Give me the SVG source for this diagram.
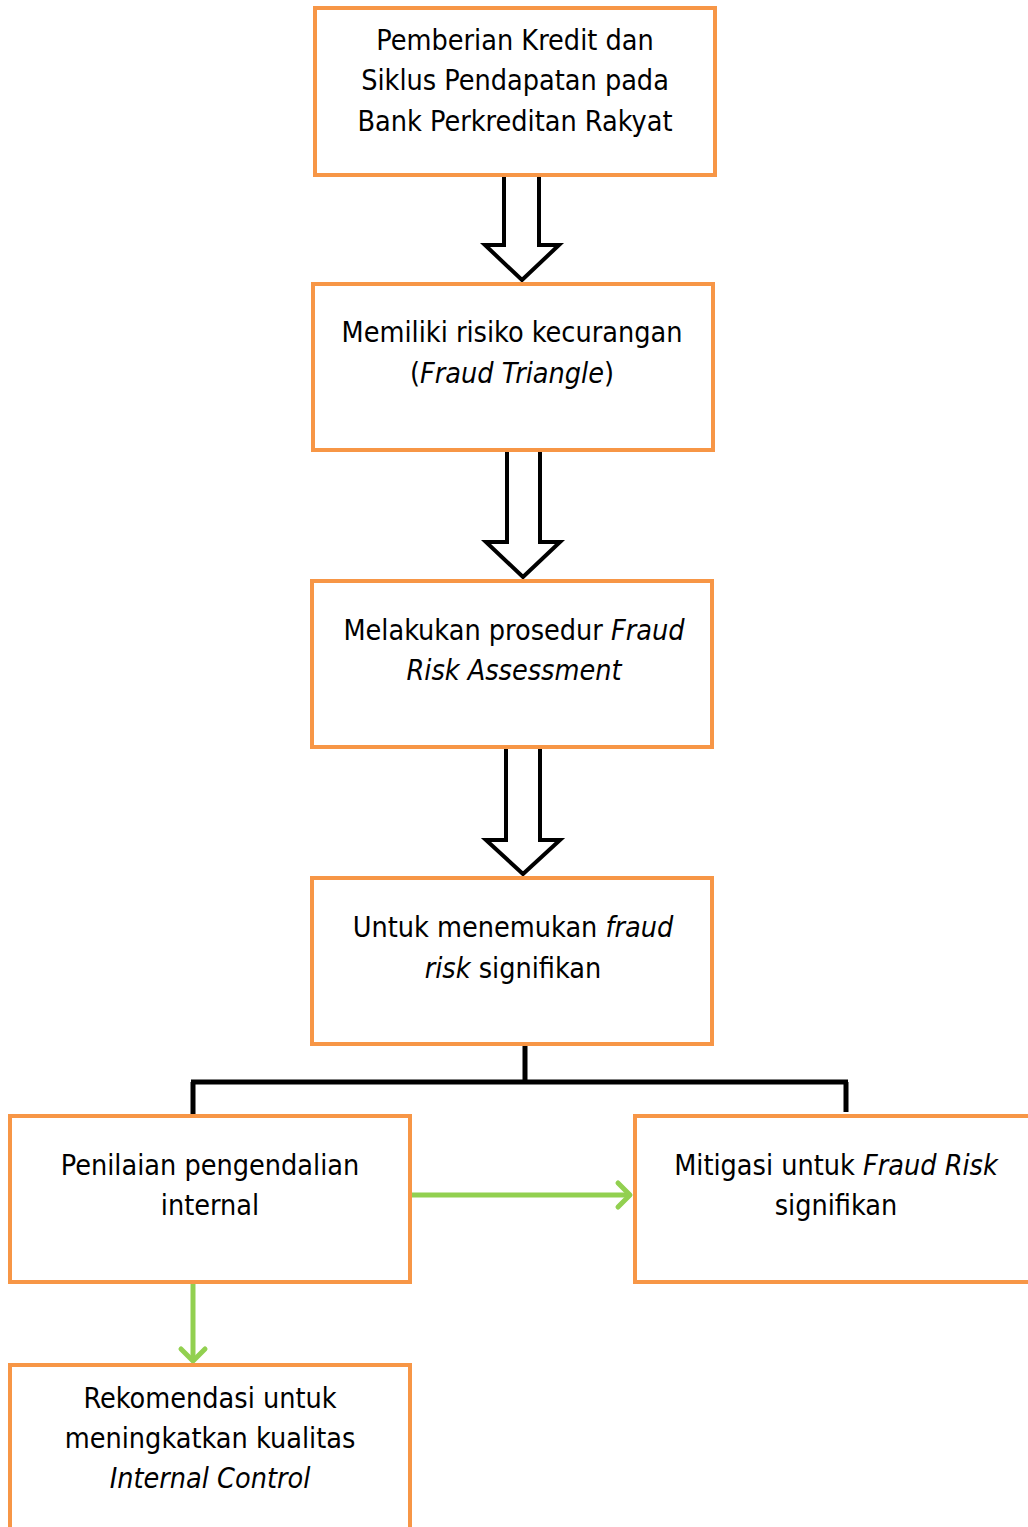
<svg xmlns="http://www.w3.org/2000/svg" width="1028" height="1527" viewBox="0 0 1028 1527">
<style>
.box{fill:#fff;stroke:#F79646;stroke-width:4}
.t{font-family:"DejaVu Sans Condensed","DejaVu Sans",sans-serif;font-size:28.5px;fill:#000;text-anchor:middle}
.i{font-style:italic}
.big{fill:#fff;stroke:#000;stroke-width:4;stroke-linejoin:miter}
.blk{fill:none;stroke:#000;stroke-width:5}
.grn{fill:none;stroke:#92D050;stroke-width:5}
</style>
<defs>
<marker id="chev" markerWidth="8" markerHeight="10" refX="6" refY="5" orient="auto" markerUnits="userSpaceOnUse" viewBox="0 0 8 10" overflow="visible">
<path d="M-6,-7 L6,5 L-6,17" fill="none" stroke="#92D050" stroke-width="5" stroke-linecap="round" stroke-linejoin="round"/>
</marker>
</defs>
<g id="connectors">
<path class="big" d="M504,175 L504,245 L485,245 L522,280 L559,245 L539,245 L539,175"/>
<path class="big" d="M507,452 L507,542 L486,542 L523,577 L560,542 L540,542 L540,452"/>
<path class="big" d="M506,748 L506,840 L486,840 L523,874 L560,840 L540,840 L540,748"/>
<path class="blk" d="M525,1044 L525,1082 M191,1082 L848,1082 M193,1082 L193,1115 M846,1082 L846,1112"/>
<path class="grn" d="M410,1195 L630,1195" marker-end="url(#chev)"/>
<path class="grn" d="M193,1283 L193,1361" marker-end="url(#chev)"/>
</g>
<g id="n1">
<rect class="box" x="315" y="8" width="400" height="167"/>
<text class="t" x="515" y="50">Pemberian Kredit dan</text>
<text class="t" x="515" y="90">Siklus Pendapatan pada</text>
<text class="t" x="515" y="131">Bank Perkreditan Rakyat</text>
</g>
<g id="n2">
<rect class="box" x="313" y="284" width="400" height="166"/>
<text class="t" x="512" y="342">Memiliki risiko kecurangan</text>
<text class="t" x="512" y="383">(<tspan class="i">Fraud Triangle</tspan>)</text>
</g>
<g id="n3">
<rect class="box" x="312" y="581" width="400" height="166"/>
<text class="t" x="514" y="640">Melakukan prosedur <tspan class="i">Fraud</tspan></text>
<text class="t i" x="514" y="680">Risk Assessment</text>
</g>
<g id="n4">
<rect class="box" x="312" y="878" width="400" height="166"/>
<text class="t" x="513" y="937">Untuk menemukan <tspan class="i">fraud</tspan></text>
<text class="t" x="513" y="978"><tspan class="i">risk</tspan> signifikan</text>
</g>
<g id="n5">
<rect class="box" x="10" y="1116" width="400" height="166"/>
<text class="t" x="210" y="1175">Penilaian pengendalian</text>
<text class="t" x="210" y="1215">internal</text>
</g>
<g id="n6">
<rect class="box" x="635" y="1116" width="400" height="166"/>
<text class="t" x="836" y="1175">Mitigasi untuk <tspan class="i">Fraud Risk</tspan></text>
<text class="t" x="836" y="1215">signifikan</text>
</g>
<g id="n7">
<rect class="box" x="10" y="1365" width="400" height="200"/>
<text class="t" x="210" y="1408">Rekomendasi untuk</text>
<text class="t" x="210" y="1448">meningkatkan kualitas</text>
<text class="t i" x="210" y="1488">Internal Control</text>
</g>
</svg>
